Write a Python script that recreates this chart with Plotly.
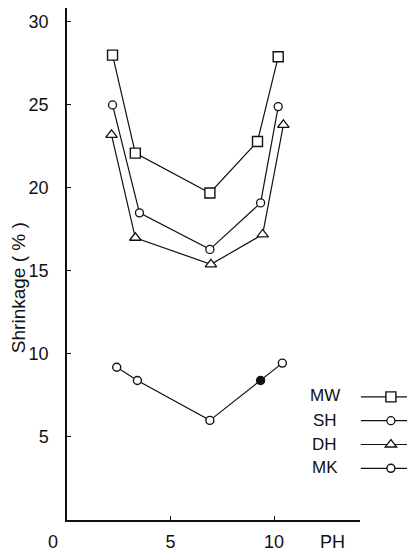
import plotly.graph_objects as go

# ---- data ----
series_names = ["MW", "SH", "DH", "MK"]

mw_ph = [2.2, 3.3, 6.9, 9.2, 10.2]
mw_shrink = [28.0, 22.1, 19.7, 22.8, 27.9]

sh_ph = [2.2, 3.5, 6.9, 9.35, 10.2]
sh_shrink = [25.0, 18.5, 16.3, 19.1, 24.9]

dh_ph = [2.15, 3.3, 6.95, 9.45, 10.45]
dh_shrink = [23.2, 17.0, 15.4, 17.2, 23.8]

mk_ph = [2.4, 3.4, 6.9, 9.35, 10.4]
mk_shrink = [9.2, 8.4, 6.0, 8.4, 9.45]

y_tick_vals = [5, 10, 15, 20, 25, 30]
y_tick_text = ["5", "10", "15", "20", "25", "30"]
x_tick_vals = [5, 10]
x_tick_text = ["5", "10"]
y_title = "Shrinkage ( % )"
x_name = "PH"

FONT = "Liberation Sans, Arial, sans-serif"
BLACK = "#111111"

fig = go.Figure()

line_style = dict(color=BLACK, width=1.2)


def hover(name):
    return name + "<br>pH %{x}<br>Shrinkage %{y} %<extra></extra>"


# legend entries show only the line samples; their labels are drawn to the left
fig.add_trace(go.Scatter(
    x=mw_ph, y=mw_shrink, name="", mode="lines+markers",
    line=line_style, hovertemplate=hover(series_names[0]),
    marker=dict(symbol="square", size=10, color="white", line=dict(color=BLACK, width=1.4)),
))
fig.add_trace(go.Scatter(
    x=sh_ph, y=sh_shrink, name="", mode="lines+markers",
    line=line_style, hovertemplate=hover(series_names[1]),
    marker=dict(symbol="circle", size=8, color="white", line=dict(color=BLACK, width=1.3)),
))
fig.add_trace(go.Scatter(
    x=dh_ph, y=dh_shrink, name="", mode="lines+markers",
    line=line_style, hovertemplate=hover(series_names[2]),
    marker=dict(symbol="triangle-up", size=10, color="white", line=dict(color=BLACK, width=1.3)),
))
fig.add_trace(go.Scatter(
    x=mk_ph, y=mk_shrink, name="", mode="lines+markers",
    line=line_style, hovertemplate=hover(series_names[3]),
    marker=dict(symbol="circle", size=8,
                color=["white", "white", "white", BLACK, "white"],
                line=dict(color=BLACK, width=1.4)),
))

# legend labels (text to the left of the line samples, as in the reference)
label_rows = [0.2422, 0.1953, 0.1484, 0.1016]
annotations = []
for name, yy in zip(series_names, label_rows):
    annotations.append(dict(
        text=name, xref="paper", yref="paper", x=0.8805, y=yy,
        xanchor="center", yanchor="middle", showarrow=False,
        font=dict(family=FONT, size=17, color=BLACK),
    ))
# origin label and axis name
annotations.append(dict(
    text="0", xref="x", yref="paper", x=0, y=0, xshift=-14, yshift=-22,
    xanchor="center", yanchor="middle", showarrow=False,
    font=dict(family=FONT, size=18, color=BLACK),
))
annotations.append(dict(
    text=x_name, xref="x", yref="paper", x=12.8, y=0, yshift=-22,
    xanchor="center", yanchor="middle", showarrow=False,
    font=dict(family=FONT, size=18, color=BLACK),
))
# y axis title (placed lower than centre, as in the reference)
annotations.append(dict(
    text=y_title, xref="paper", yref="paper", x=-0.167, y=0.453,
    xanchor="center", yanchor="middle", textangle=-90, showarrow=False,
    font=dict(family=FONT, size=19, color=BLACK),
))

fig.update_layout(
    width=407, height=544,
    margin=dict(l=59, r=55, t=0, b=32, autoexpand=False),
    paper_bgcolor="white", plot_bgcolor="white",
    font=dict(family=FONT, size=18, color=BLACK),
    showlegend=True,
    legend=dict(
        x=0.986, y=0.2734, xanchor="left", yanchor="top",
        bgcolor="rgba(0,0,0,0)", borderwidth=0,
        font=dict(family=FONT, size=16, color=BLACK),
        itemwidth=60, tracegroupgap=0,
    ),
    annotations=annotations,
    xaxis=dict(
        range=[0, 14.15], showgrid=False, zeroline=False,
        showline=True, linecolor=BLACK, linewidth=1.6,
        ticks="inside", ticklen=4, tickwidth=1.2, tickcolor=BLACK,
        tickvals=x_tick_vals, ticktext=x_tick_text,
        tickfont=dict(family=FONT, size=18, color=BLACK),
        ticklabelstandoff=5,
    ),
    yaxis=dict(
        range=[0, 30.84], showgrid=False, zeroline=False,
        showline=True, linecolor=BLACK, linewidth=1.5,
        ticks="inside", ticklen=4, tickwidth=1.2, tickcolor=BLACK,
        tickvals=y_tick_vals, ticktext=y_tick_text,
        tickfont=dict(family=FONT, size=18, color=BLACK),
        ticklabelstandoff=13,
    ),
)

fig.write_html("out.html")
